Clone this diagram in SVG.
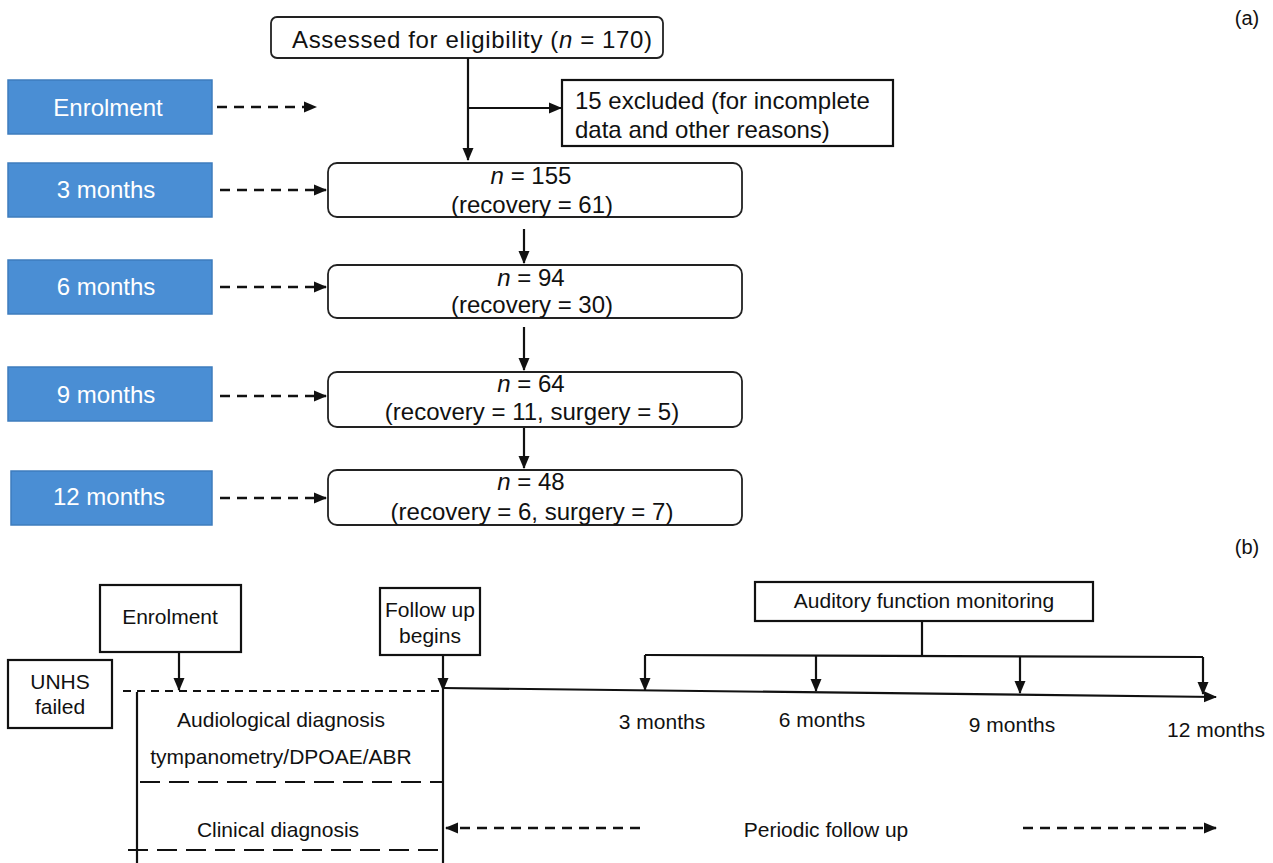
<svg xmlns="http://www.w3.org/2000/svg" width="1273" height="863" viewBox="0 0 1273 863">
<style>
text{font-family:"Liberation Sans",Arial,sans-serif;fill:#111;}
.t23{font-size:24px;}
.t21{font-size:21px;}
.blue rect{fill:#4a8ed4;stroke:#3e7cbd;stroke-width:1.5;}
.blue text{fill:#fff;font-size:24px;text-anchor:middle;}
.rbox{fill:#fff;stroke:#222;stroke-width:1.8;}
.sbox{fill:#fff;stroke:#111;stroke-width:2.2;}
.ln{stroke:#111;stroke-width:2.2;fill:none;}
.dash{stroke:#111;stroke-width:2.5;fill:none;stroke-dasharray:10 7;}
.ld{stroke:#111;stroke-width:2;fill:none;stroke-dasharray:20 9;}
.sd{stroke:#111;stroke-width:2;fill:none;stroke-dasharray:8 6;}
.c{text-anchor:middle;}
</style>
<defs>
<marker id="ah" markerUnits="userSpaceOnUse" markerWidth="13" markerHeight="13" viewBox="0 0 13 13" refX="12" refY="6.5" orient="auto">
<path d="M0,1 L13,6.5 L0,12 Z" fill="#111"/>
</marker>
</defs>

<text x="1247" y="25" class="c" style="font-size:20px">(a)</text>
<text x="1247" y="554" class="c" style="font-size:20px">(b)</text>

<!-- Part (a) -->
<g id="assessed">
<rect x="271" y="17" width="392" height="41" rx="6" class="rbox"/>
<text x="472" y="48" class="t23 c" textLength="360" lengthAdjust="spacing">Assessed for eligibility (<tspan font-style="italic">n</tspan> = 170)</text>
</g>
<g id="excluded">
<rect x="562" y="80" width="331" height="66" class="sbox"/>
<text x="575" y="109" class="t23">15 excluded (for incomplete</text>
<text x="575" y="138" class="t23">data and other reasons)</text>
</g>
<g id="b-enrol" class="blue"><rect x="8" y="80" width="204" height="54"/><text x="108" y="116">Enrolment</text></g>
<g id="b-3m" class="blue"><rect x="8" y="163" width="204" height="54"/><text x="106" y="198">3 months</text></g>
<g id="b-6m" class="blue"><rect x="8" y="260" width="204" height="54"/><text x="106" y="295">6 months</text></g>
<g id="b-9m" class="blue"><rect x="8" y="367" width="204" height="54"/><text x="106" y="403">9 months</text></g>
<g id="b-12m" class="blue"><rect x="11" y="471" width="201" height="54"/><text x="109" y="505">12 months</text></g>

<g id="n155">
<rect x="328" y="163" width="414" height="54" rx="9" class="rbox"/>
<text x="531" y="184" class="t23 c"><tspan font-style="italic">n</tspan> = 155</text>
<text x="532" y="213" class="t23 c">(recovery = 61)</text>
</g>
<g id="n94">
<rect x="328" y="265" width="414" height="53" rx="9" class="rbox"/>
<text x="531" y="286" class="t23 c"><tspan font-style="italic">n</tspan> = 94</text>
<text x="532" y="313" class="t23 c">(recovery = 30)</text>
</g>
<g id="n64">
<rect x="328" y="372" width="414" height="55" rx="9" class="rbox"/>
<text x="531" y="392" class="t23 c"><tspan font-style="italic">n</tspan> = 64</text>
<text x="532" y="420" class="t23 c">(recovery = 11, surgery = 5)</text>
</g>
<g id="n48">
<rect x="328" y="470" width="414" height="55" rx="9" class="rbox"/>
<text x="531" y="490" class="t23 c"><tspan font-style="italic">n</tspan> = 48</text>
<text x="532" y="520" class="t23 c">(recovery = 6, surgery = 7)</text>
</g>

<!-- Part (b) -->
<g id="enrolment-b">
<rect x="100" y="585" width="141" height="67" class="sbox"/>
<text x="170" y="624" class="t21 c">Enrolment</text>
</g>
<g id="unhs">
<rect x="8" y="660" width="104" height="68" class="sbox"/>
<text x="60" y="689" class="t21 c">UNHS</text>
<text x="60" y="714" class="t21 c">failed</text>
</g>
<g id="followup">
<rect x="380" y="588" width="100" height="67" class="sbox"/>
<text x="430" y="617" class="t21 c">Follow up</text>
<text x="430" y="643" class="t21 c">begins</text>
</g>
<g id="auditory">
<rect x="755" y="582" width="338" height="39" class="sbox"/>
<text x="924" y="608" class="t21 c">Auditory function monitoring</text>
</g>
<g id="labels-b">
<text x="662" y="729" class="t21 c">3 months</text>
<text x="822" y="727" class="t21 c">6 months</text>
<text x="1012" y="732" class="t21 c">9 months</text>
<text x="1216" y="737" class="t21 c">12 months</text>
<text x="281" y="727" class="t21 c">Audiological diagnosis</text>
<text x="281" y="764" class="t21 c">tympanometry/DPOAE/ABR</text>
<text x="278" y="837" class="t21 c">Clinical diagnosis</text>
<text x="826" y="837" class="t21 c">Periodic follow up</text>
</g>

<g id="connectors">
<!-- (a) -->
<line x1="468" y1="58" x2="468" y2="160" class="ln" marker-end="url(#ah)"/>
<line x1="468" y1="108" x2="561" y2="108" class="ln" marker-end="url(#ah)"/>
<line x1="524" y1="229" x2="524" y2="263" class="ln" marker-end="url(#ah)"/>
<line x1="524" y1="327" x2="524" y2="370" class="ln" marker-end="url(#ah)"/>
<line x1="524" y1="428" x2="524" y2="468" class="ln" marker-end="url(#ah)"/>
<line x1="217" y1="107" x2="316" y2="107" class="dash" marker-end="url(#ah)"/>
<line x1="220" y1="190" x2="326" y2="190" class="dash" marker-end="url(#ah)"/>
<line x1="220" y1="287" x2="326" y2="287" class="dash" marker-end="url(#ah)"/>
<line x1="220" y1="396" x2="326" y2="396" class="dash" marker-end="url(#ah)"/>
<line x1="220" y1="498" x2="326" y2="498" class="dash" marker-end="url(#ah)"/>
<!-- (b) -->
<line x1="179" y1="652" x2="179" y2="690" class="ln" marker-end="url(#ah)"/>
<line x1="443" y1="655" x2="443" y2="690" class="ln" marker-end="url(#ah)"/>
<line x1="443" y1="690" x2="443" y2="863" class="ln"/>
<line x1="137" y1="692" x2="137" y2="863" class="ln"/>
<line x1="123" y1="691" x2="443" y2="691" class="sd"/>
<line x1="140" y1="782" x2="443" y2="782" class="ld"/>
<line x1="128" y1="850" x2="440" y2="850" class="ld"/>
<line x1="443" y1="688" x2="1216" y2="697" class="ln" marker-end="url(#ah)"/>
<line x1="922" y1="621" x2="922" y2="656" class="ln"/>
<line x1="645" y1="655" x2="1203" y2="657" class="ln"/>
<line x1="645" y1="655" x2="645" y2="690" class="ln" marker-end="url(#ah)"/>
<line x1="816" y1="656" x2="816" y2="691" class="ln" marker-end="url(#ah)"/>
<line x1="1020" y1="656" x2="1020" y2="693" class="ln" marker-end="url(#ah)"/>
<line x1="1203" y1="657" x2="1203" y2="694" class="ln" marker-end="url(#ah)"/>
<line x1="640" y1="828" x2="446" y2="828" class="dash" marker-end="url(#ah)"/>
<line x1="1023" y1="828" x2="1216" y2="828" class="dash" marker-end="url(#ah)"/>
</g>
</svg>
